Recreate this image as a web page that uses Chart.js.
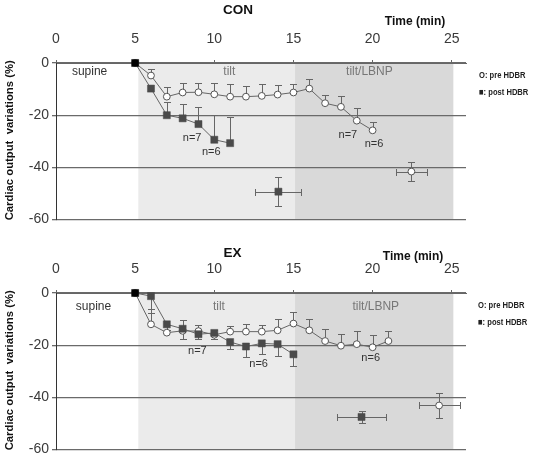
<!DOCTYPE html>
<html><head><meta charset="utf-8">
<script src="https://cdn.jsdelivr.net/npm/chart.js@4.4.1/dist/chart.umd.min.js"></script>
<style>
html,body{margin:0;padding:0;background:#fff;width:542px;height:462px;overflow:hidden}
.panel{position:absolute;left:0;width:542px;height:231px}
</style></head><body>
<div class="panel" style="top:0"><canvas id="con" width="542" height="231"></canvas></div>
<div class="panel" style="top:230px"><canvas id="ex" width="542" height="231"></canvas></div>
<script>
// ---- tick labels & phases ----
const xTicks = [0, 5, 10, 15, 20, 25];
const yTicks = [0, -20, -40, -60];
const phaseNames = ['supine', 'tilt', 'tilt/LBNP'];
const phaseStart = [5.2, 15.1];   // tilt, tilt/LBNP (min)
const phaseEnd = [15.1, 25.1];

// ---- CON ----
const conPreTime = [5, 6, 7, 8, 9, 10, 11, 12, 13, 14, 15, 16, 17, 18, 19, 20];
const conPre = [0, -4.8, -12.9, -11.3, -11.2, -12.0, -12.9, -12.9, -12.6, -12.1, -11.3, -9.8, -15.4, -16.8, -22.1, -25.8];
const conPreErr = [0, 2.4, 3.6, 3.5, 3.5, 4.5, 4.8, 4.2, 4.6, 3.8, 3.1, 3.6, 3.3, 4.1, 4.7, 3.2];
const conPostTime = [5, 6, 7, 8, 9, 10, 11];
const conPost = [0, -9.8, -20.0, -21.2, -23.4, -29.4, -30.7];
const conPostErr = [0, 0, 5.1, 5.6, 6.6, 9.3, 10.2];
const conPreEndTime = [22.45], conPreEndTimeErr = [1.0], conPreEnd = [-41.6], conPreEndErr = [3.5];
const conPostEndTime = [14.05], conPostEndTimeErr = [1.45], conPostEnd = [-49.3], conPostEndErr = [5.5];

// ---- EX ----
const exPreTime = [5, 6, 7, 8, 9, 10, 11, 12, 13, 14, 15, 16, 17, 18, 19, 20, 21];
const exPre = [0, -12.0, -15.2, -14.5, -14.6, -16.0, -14.8, -14.8, -14.8, -14.3, -11.7, -14.3, -18.4, -20.2, -19.6, -20.8, -18.4];
const exPreErr = [0, 5.8, 3.0, 4.0, 2.4, 1.7, 2.2, 3.0, 2.4, 4.2, 4.3, 4.2, 4.7, 4.3, 4.9, 4.6, 3.7];
const exPostTime = [5, 6, 7, 8, 9, 10, 11, 12, 13, 14, 15];
const exPost = [0, -1.2, -12.0, -13.7, -15.8, -15.3, -18.8, -20.5, -19.3, -19.6, -23.5];
const exPostErr = [0, 6.5, 2.0, 3.8, 2.0, 2.2, 2.7, 4.0, 3.9, 4.6, 4.5];
const exPreEndTime = [24.2], exPreEndTimeErr = [1.3], exPreEnd = [-43.1], exPreEndErr = [4.8];
const exPostEndTime = [19.3], exPostEndTimeErr = [1.55], exPostEnd = [-47.5], exPostEndErr = [2.4];

Chart.defaults.font.family = '"Liberation Sans", Arial, sans-serif';

const pts = (xs, ys) => xs.map((t, i) => ({x: t, y: ys[i]}));

const overlay = {
  id: 'overlay',
  beforeDraw(chart, args, o) {
    const {ctx, chartArea: a, scales: {x}} = chart;
    ctx.save();
    const fills = ['#ebebeb', '#d9d9d9'];
    phaseStart.forEach((s, i) => {
      const x1 = x.getPixelForValue(s), x2 = x.getPixelForValue(phaseEnd[i]);
      ctx.fillStyle = fills[i];
      ctx.fillRect(x1, a.top, x2 - x1, a.bottom - a.top);
    });
    ctx.restore();
  },
  beforeDatasetsDraw(chart) {
    const {ctx, scales: {x, y}} = chart;
    ctx.save();
    ctx.strokeStyle = '#666';
    ctx.lineWidth = 1;
    const cap = 3.5;
    const line = (x1, y1, x2, y2) => { ctx.beginPath(); ctx.moveTo(x1, y1); ctx.lineTo(x2, y2); ctx.stroke(); };
    chart.data.datasets.forEach(ds => {
      ds.data.forEach((p, i) => {
        const px = Math.round(x.getPixelForValue(p.x)) + 0.5;
        const py = Math.round(y.getPixelForValue(p.y)) + 0.5;
        const up = ds.errUp ? ds.errUp[i] : 0;
        const dn = ds.errDown ? ds.errDown[i] : 0;
        const ex = ds.errX ? ds.errX[i] : 0;
        if (up) { const yy = Math.round(y.getPixelForValue(p.y + up)) + 0.5; line(px, py, px, yy); line(px - cap, yy, px + cap, yy); }
        if (dn) { const yy = Math.round(y.getPixelForValue(p.y - dn)) + 0.5; line(px, py, px, yy); line(px - cap, yy, px + cap, yy); }
        if (ex) {
          const xl = Math.round(x.getPixelForValue(p.x - ex)) + 0.5, xr = Math.round(x.getPixelForValue(p.x + ex)) + 0.5;
          line(xl, py, xr, py); line(xl, py - cap, xl, py + cap); line(xr, py - cap, xr, py + cap);
        }
      });
    });
    ctx.restore();
  },
  afterDraw(chart, args, o) {
    const {ctx, chartArea: a, scales: {x, y}} = chart;
    ctx.save();
    ctx.textBaseline = 'middle';
    // panel title
    ctx.fillStyle = '#111';
    ctx.textAlign = 'center';
    ctx.font = 'bold 13.5px "Liberation Sans", Arial, sans-serif';
    ctx.fillText(o.title, o.titleX, o.titleY);
    ctx.font = 'bold 12px "Liberation Sans", Arial, sans-serif';
    ctx.fillText('Time (min)', o.timeX, o.timeY);
    // y title
    ctx.save();
    ctx.translate(9.5, (a.top + a.bottom) / 2 - 1);
    ctx.rotate(-Math.PI / 2);
    ctx.font = 'bold 11.3px "Liberation Sans", Arial, sans-serif';
    ctx.fillText('Cardiac output  variations (%)', 0, 0);
    ctx.restore();
    // legend
    ctx.textAlign = 'left';
    ctx.fillStyle = '#222';
    ctx.font = 'bold 9.5px "Liberation Sans", Arial, sans-serif';
    [['O: pre HDBR', o.legY[0]], ['\u25A0: post HDBR', o.legY[1]]].forEach(([t, yy]) => {
      ctx.save(); ctx.translate(o.legX, yy); ctx.scale(0.8, 1); ctx.fillText(t, 0, 0); ctx.restore();
    });
    // phase labels
    ctx.textAlign = 'center';
    ctx.font = '12px "Liberation Sans", Arial, sans-serif';
    const phaseCol = ['#333', '#777', '#777'];
    phaseNames.forEach((n, i) => {
      ctx.fillStyle = phaseCol[i];
      ctx.fillText(n, x.getPixelForValue(o.phaseX[i]), y.getPixelForValue(o.phaseY));
    });
    // n= notes
    ctx.fillStyle = '#333';
    ctx.font = '11px "Liberation Sans", Arial, sans-serif';
    o.noteText.forEach((t, i) => {
      ctx.fillText(t, x.getPixelForValue(o.noteX[i]), y.getPixelForValue(o.noteY[i]));
    });
    ctx.restore();
  }
};

function makeChart(id, d, ov) {
  const squareCols = d.postTime.map((t, i) => i === 0 ? '#000' : '#4a4a4a');
  return new Chart(document.getElementById(id), {
    type: 'line',
    data: {
      datasets: [
        { data: pts(d.postTime, d.post), errUp: d.postUp, errDown: d.postDown,
          borderColor: '#666', borderWidth: 1, pointStyle: 'rect', pointRadius: 5,
          pointBackgroundColor: squareCols, pointBorderColor: squareCols, pointBorderWidth: 0.5 },
        { data: pts(d.postEndTime, d.postEnd), errUp: d.postEndErr, errDown: d.postEndErr, errX: d.postEndTimeErr,
          showLine: false, pointStyle: 'rect', pointRadius: 5,
          pointBackgroundColor: '#4a4a4a', pointBorderColor: '#4a4a4a', pointBorderWidth: 0.5 },
        { data: pts(d.preTime, d.pre), errUp: d.preErr,
          borderColor: '#666', borderWidth: 1, pointStyle: 'circle', pointRadius: 3.4,
          pointBackgroundColor: '#fff', pointBorderColor: '#555', pointBorderWidth: 1 },
        { data: pts(d.preEndTime, d.preEnd), errUp: d.preEndErr, errDown: d.preEndErr, errX: d.preEndTimeErr,
          showLine: false, pointStyle: 'circle', pointRadius: 3.4,
          pointBackgroundColor: '#fff', pointBorderColor: '#555', pointBorderWidth: 1 }
      ]
    },
    options: {
      responsive: false, animation: false, devicePixelRatio: 1,
      layout: { padding: { left: 0, top: 0, right: 76, bottom: 7 } },
      elements: { line: { tension: 0 } },
      datasets: { line: { clip: false } },
      scales: {
        x: {
          type: 'linear', position: 'top', min: 0, max: 25.9,
          afterBuildTicks: s => { s.ticks = xTicks.map(v => ({value: v})); },
          afterFit: s => { s.height = 63; },
          ticks: { font: { size: 14 }, color: '#3a3a3a', padding: 12, autoSkip: false, maxRotation: 0 },
          grid: { drawOnChartArea: false, tickLength: 3, color: '#666' },
          border: { color: '#666', width: 1 }
        },
        y: {
          type: 'linear', min: -60, max: 0,
          afterBuildTicks: s => { s.ticks = yTicks.map(v => ({value: v})); },
          afterFit: s => { s.width = 56; },
          ticks: { font: { size: 14 }, color: '#3a3a3a', padding: 3 },
          grid: { color: '#6a6a6a', lineWidth: 1.3, tickLength: 4 },
          border: { color: '#333', width: 1 }
        }
      },
      plugins: { legend: { display: false }, tooltip: { enabled: false }, overlay: ov }
    },
    plugins: [overlay]
  });
}

makeChart('con', {
  preTime: conPreTime, pre: conPre, preErr: conPreErr,
  postTime: conPostTime, post: conPost, postUp: conPostErr, postDown: null,
  preEndTime: conPreEndTime, preEnd: conPreEnd, preEndErr: conPreEndErr, preEndTimeErr: conPreEndTimeErr,
  postEndTime: conPostEndTime, postEnd: conPostEnd, postEndErr: conPostEndErr, postEndTimeErr: conPostEndTimeErr
}, {
  title: 'CON', titleX: 238, titleY: 10, timeX: 415, timeY: 22,
  legX: 479, legY: [75, 92],
  phaseX: [2.12, 10.95, 19.8], phaseY: -3.5,
  noteText: ['n=7', 'n=6', 'n=7', 'n=6'],
  noteX: [8.6, 9.81, 18.44, 20.09], noteY: [-28.7, -34.0, -27.5, -31.2]
});

makeChart('ex', {
  preTime: exPreTime, pre: exPre, preErr: exPreErr,
  postTime: exPostTime, post: exPost, postUp: null, postDown: exPostErr,
  preEndTime: exPreEndTime, preEnd: exPreEnd, preEndErr: exPreEndErr, preEndTimeErr: exPreEndTimeErr,
  postEndTime: exPostEndTime, postEnd: exPostEnd, postEndErr: exPostEndErr, postEndTimeErr: exPostEndTimeErr
}, {
  title: 'EX', titleX: 232.5, titleY: 23.3, timeX: 413, timeY: 26.7,
  legX: 478, legY: [75, 92.7],
  phaseX: [2.37, 10.29, 20.2], phaseY: -5.1,
  noteText: ['n=7', 'n=6', 'n=6'],
  noteX: [8.93, 12.8, 19.88], noteY: [-22.1, -27.1, -24.9]
});
</script>
</body></html>
